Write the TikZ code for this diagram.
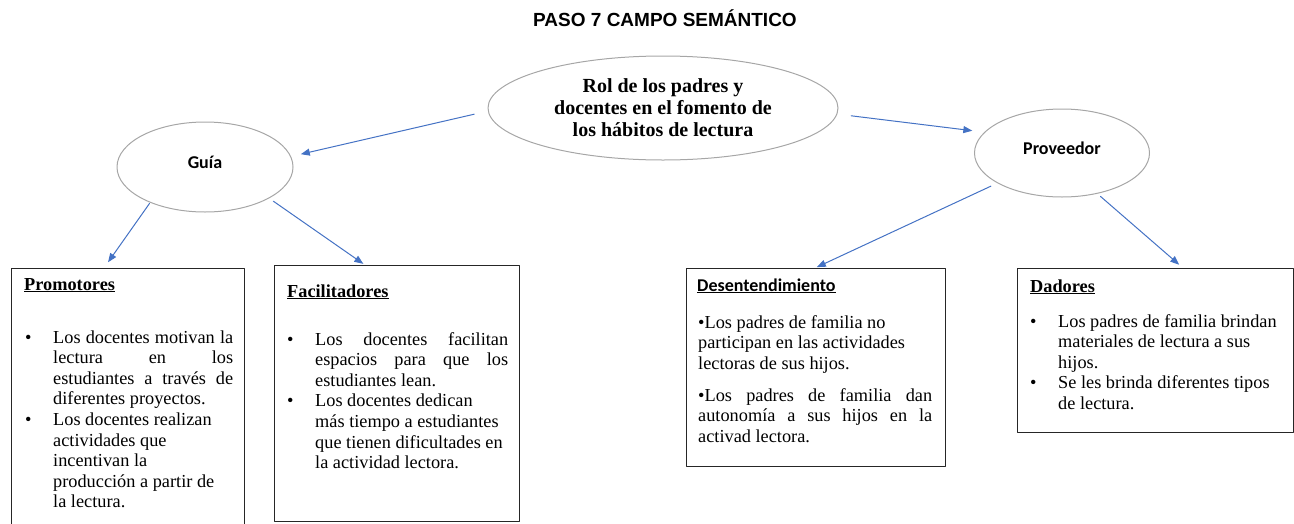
\documentclass[tikz,border=0pt]{standalone}
\usepackage{fontspec}
\setmainfont{Liberation Serif}
\newfontfamily\calibri{Carlito}
\newfontfamily\arial{Liberation Sans}
\usetikzlibrary{shapes.geometric,arrows.meta}
\definecolor{azul}{RGB}{68,114,196}
\definecolor{gris}{RGB}{166,166,166}
\newcommand{\cuerpo}{\fontsize{18.3}{20.6}\selectfont}
\newcommand{\esp}{\spaceskip=0pt\xspaceskip=0pt\relax}
\newcommand{\bitem}[1]{\esp\hangindent=28pt\hangafter=1\noindent\makebox[28pt][l]{\textbullet}#1\par}
\newcommand{\bjust}[1]{{\rightskip=0pt\relax\parfillskip=0pt plus 1fil\relax\bitem{#1}}}
\newcommand{\bragged}[1]{{\raggedright\bitem{#1}}}
\newcommand{\subraya}[1]{\setbox0\hbox{#1}\rlap{\rule[-2.2pt]{\wd0}{1pt}}\box0}
\begin{document}
\begin{tikzpicture}[x=1pt, y=-1pt, line join=round, line cap=round,
  ovalo/.style={ellipse, draw=gris, line width=1pt, inner sep=0pt},
  rotulo/.style={font=\calibri\bfseries\fontsize{18}{20}\selectfont, text height=12pt, text depth=10pt},
  caja/.style={draw=black!85, line width=1pt, anchor=north west, inner sep=0pt},
  flecha/.style={azul, line width=1pt, -{Triangle[length=9pt,width=7pt]}},
  txt/.style={anchor=base west, inner sep=0pt, font=\cuerpo},
  titulo/.style={anchor=base west, inner sep=0pt, font=\cuerpo\bfseries}]
\path[use as bounding box] (0,0) rectangle (1294,523);
\clip (0,0) rectangle (1294,523);
\node[font=\arial\bfseries\fontsize{19}{22}\selectfont] (tit) at (665,18) {PASO 7 CAMPO SEMÁNTICO};
\node[ovalo, minimum width=350pt, minimum height=104pt, align=center, font=\bfseries\fontsize{20}{22}\selectfont] (rol) at (663,108) {Rol de los padres y\\docentes en el fomento de\\los hábitos de lectura};
\node[ovalo, rotulo, minimum width=176pt, minimum height=90pt] (guia) at (205,167) {Guía};
\node[ovalo, rotulo, minimum width=175pt, minimum height=88pt] (prov) at (1062,153) {Proveedor};
\node[caja, minimum width=233pt, minimum height=290pt] (promo) at (11,268) {};
\node[caja, minimum width=245pt, minimum height=256pt] (facil) at (274,265) {};
\node[caja, minimum width=259pt, minimum height=198pt] (desent) at (686,268) {};
\node[caja, minimum width=276pt, minimum height=164pt] (dador) at (1017,268) {};
\draw[flecha, shorten <=14pt, shorten >=10pt] (rol.181) -- (guia.7);
\draw[flecha, shorten <=14pt, shorten >=12pt] (rol.358) -- (prov.165);
\draw[flecha, shorten <=1pt, shorten >=7pt] (guia.213) -- ([xshift=93pt]promo.north west);
\draw[flecha, shorten <=5pt, shorten >=2pt] (guia.334) -- ([xshift=91pt]facil.north west);
\draw[flecha, shorten <=7pt, shorten >=2pt] (prov.205) -- ([xshift=129pt]desent.north west);
\draw[flecha, shorten <=4pt, shorten >=5pt] (prov.311) -- ([xshift=166pt]dador.north west);
\node[titulo] (promohd) at (24,290) {\subraya{Promotores}};
\node[txt, text width=208pt] (promotx) at (25,343) {\bjust{Los docentes motivan la\linebreak lectura en los\linebreak estudiantes a través de\linebreak diferentes proyectos.}\bragged{Los docentes realizan\newline actividades que\newline incentivan la\newline producción a partir de\newline la lectura.}};
\node[titulo] (facilhd) at (287,297) {\subraya{Facilitadores}};
\node[txt, text width=221pt] (faciltx) at (287,345) {\bjust{Los docentes facilitan\linebreak espacios para que los\linebreak estudiantes lean.}\bragged{Los docentes dedican\newline más tiempo a estudiantes\newline que tienen dificultades en\newline la actividad lectora.}};
\node[txt, font=\calibri\bfseries\fontsize{18}{20}\selectfont] (desenthd) at (697,291) {\subraya{Desentendimiento}};
\node[txt, text width=234pt] (desenttx) at (698,328) {{\esp\raggedright\textbullet Los padres de familia no\newline participan en las actividades\newline lectoras de sus hijos.\par}\vspace{11.5pt}{\esp\rightskip=0pt\relax\parfillskip=0pt plus 1fil\relax\noindent\textbullet Los padres de familia dan\linebreak autonomía a sus hijos en la\linebreak activad lectora.\par}};
\node[titulo] (dadorhd) at (1030,292) {\subraya{Dadores}};
\node[txt, text width=249pt] (dadortx) at (1030,327) {\bragged{Los padres de familia brindan\newline materiales de lectura a sus\newline hijos.}\bragged{Se les brinda diferentes tipos\newline de lectura.}};
\end{tikzpicture}
\end{document}
